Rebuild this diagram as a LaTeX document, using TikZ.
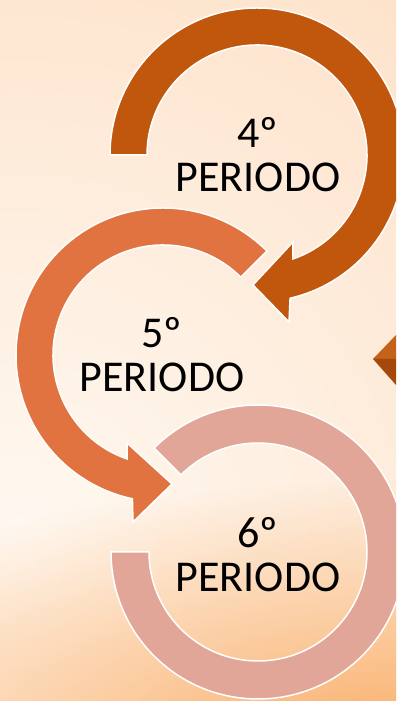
\documentclass[tikz,border=0pt]{standalone}
\usepackage{fontspec}
\setmainfont{Carlito}
\usetikzlibrary{calc}
\usetikzlibrary{fadings}
\definecolor{brown1}{RGB}{192, 87, 12}
\definecolor{brown2}{RGB}{196, 98, 26}
\definecolor{brown3}{RGB}{165, 72, 12}
\definecolor{orange1}{RGB}{224, 115, 64}
\definecolor{pink1}{RGB}{225, 166, 152}
\definecolor{cream1}{RGB}{255, 249, 242}
\definecolor{peach1}{RGB}{253, 224, 198}
\definecolor{glow1}{RGB}{250, 176, 108}
\tikzfading[name=glowfade, inner color=transparent!0, outer color=transparent!100]

\begin{document}
\begin{tikzpicture}[x=1pt, y=1pt, line width=1.5pt,
  ring/.style={draw=white, line width=1.5pt, line join=miter},
  periodo/.style={align=center, font=\fontsize{44}{44}\selectfont, inner sep=0pt}]
  \useasboundingbox (0,0) rectangle (396,701);
  \begin{scope}
    \clip (0,0) rectangle (396,701);
    \shade[inner color=cream1, outer color=peach1] (-740,-620) rectangle (780,900);
    \fill[glow1, path fading=glowfade] (396,-40) ellipse (700 and 260);
    \fill[brown2] (396,366) -- (373,342) -- (396,342) -- cycle;
    \fill[brown3] (396,342) -- (373,342) -- (396,316) -- cycle;
  \begin{scope}[shift={(258,149)}]
    \filldraw[ring, fill=pink1] (135:147) arc[start angle=135, end angle=-180, radius=147]
      -- (180:109) arc[start angle=-180, end angle=135, radius=109] -- cycle;
  \end{scope}
  \begin{scope}[shift={(163,346)}]
    \filldraw[ring, fill=orange1] (45:147) arc[start angle=45, end angle=258, radius=147]
      -- (-30,-167) -- (9,-129) -- (-36,-88) -- (251:110)
      arc[start angle=251, end angle=45, radius=110] -- cycle;
  \end{scope}
  \begin{scope}[shift={(257,546)}]
    \filldraw[ring, fill=brown1] (180:147) arc[start angle=180, end angle=-77, radius=147]
      -- (32,-167) -- (-4,-130) -- (36,-87) -- (-71:110)
      arc[start angle=-71, end angle=180, radius=110] -- cycle;
  \end{scope}
  \end{scope}
  \node[periodo] (p4) at (258,546) {4º\\PERIODO};
  \node[periodo] (p5) at (162,346) {5º\\PERIODO};
  \node[periodo] (p6) at (258,146) {6º\\PERIODO};
\end{tikzpicture}
\end{document}
